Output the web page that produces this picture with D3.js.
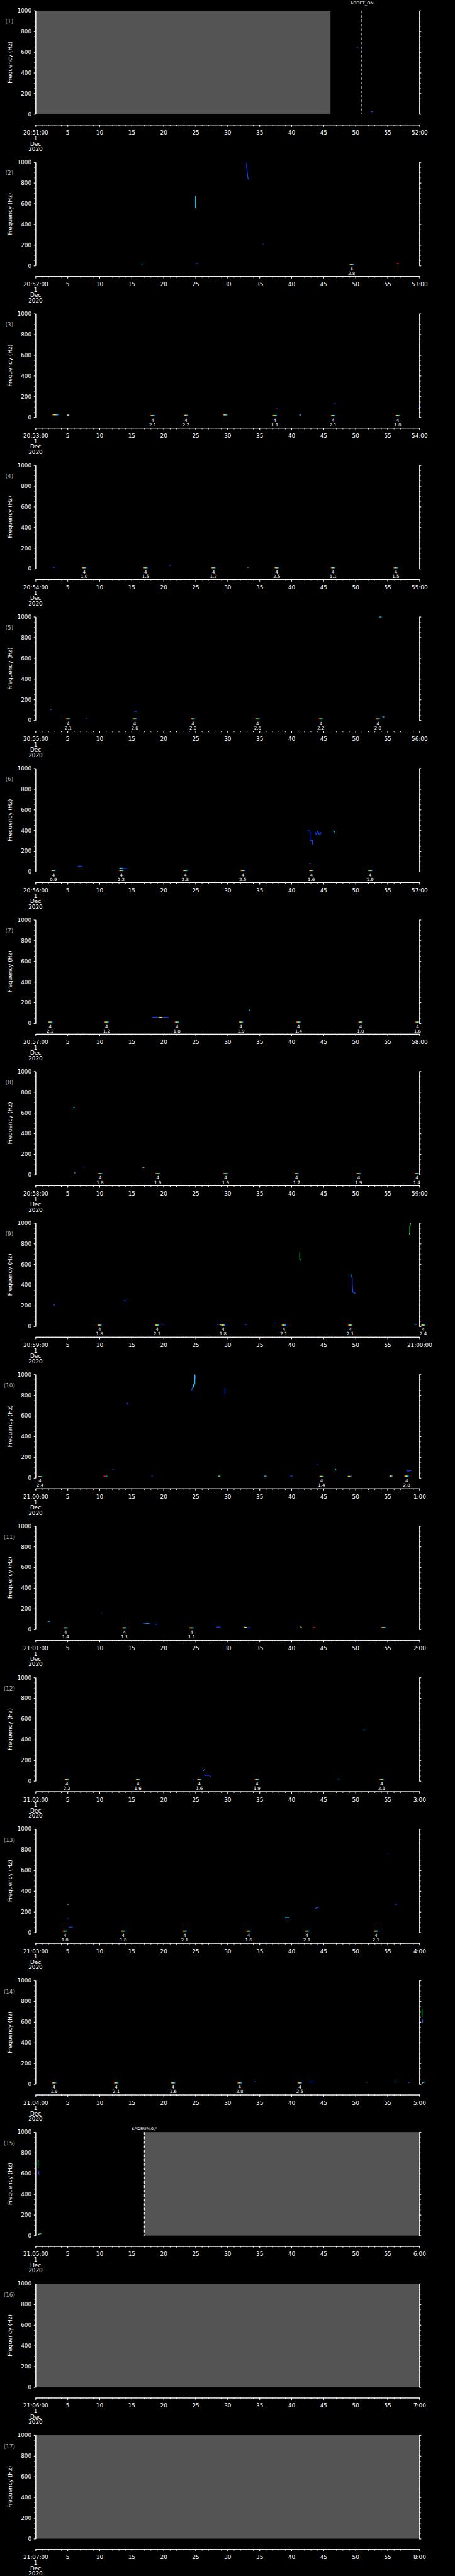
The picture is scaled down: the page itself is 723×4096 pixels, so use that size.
<!DOCTYPE html>
<html lang="en">
<head>
<meta charset="utf-8">
<title>Spectrogram pages</title>
<script src="https://d3js.org/d3.v7.min.js"></script>
<style>
  body { margin: 0; background: #000; }
  svg { display: block; }
  text { font-family: "DejaVu Sans", sans-serif; fill: #fff; }
</style>
</head>
<body>
<script>
"use strict";

// one panel per minute
const startLabels = ["20:51:00","20:52:00","20:53:00","20:54:00","20:55:00","20:56:00","20:57:00","20:58:00",
                     "20:59:00","21:00:00","21:01:00","21:02:00","21:03:00","21:04:00","21:05:00","21:06:00","21:07:00"];
const endLabels = ["52:00","53:00","54:00","55:00","56:00","57:00","58:00","59:00",
                   "21:00:00","1:00","2:00","3:00","4:00","5:00","6:00","7:00","8:00"];
const dateLines = ["1", "Dec", "2020"];
const majorSec = d3.range(0, 61, 5);
const minorSec = d3.range(0, 61, 1);
const freqMajor = d3.range(0, 1001, 200);
const freqMinor = d3.range(0, 1001, 50);

// no-data (gray) spans: panel, start s, end s
const grayRows = [[1, 0, 46.1], [15, 17.0, 60], [16, 0, 60], [17, 0, 60]];

// flag lines: panel, s, label
const flagRows = [[1, 51.0, "ADDET_ON"], [15, 17.0, "$ADRUN,0,*"]];

// detections: panel, s, Hz, code, value
const eventRows = [
  [2,49.4,12,"4","2.8"],
  [3,18.3,15,"4","2.1"],[3,23.5,17,"4","2.2"],[3,37.4,15,"4","1.1"],[3,46.5,15,"4","2.1"],[3,56.6,15,"4","1.8"],
  [4,7.6,10,"4","1.0"],[4,17.2,10,"4","1.5"],[4,27.8,10,"4","1.2"],[4,37.7,10,"4","2.5"],[4,46.5,10,"4","1.1"],[4,56.3,10,"4","1.5"],
  [5,5.1,12,"4","2.1"],[5,15.5,12,"4","2.6"],[5,24.6,12,"4","2.0"],[5,34.7,12,"4","2.6"],[5,44.6,12,"4","2.2"],[5,53.5,12,"4","2.0"],
  [6,2.8,12,"4","0.9"],[6,13.4,12,"4","2.2"],[6,23.4,12,"4","2.8"],[6,32.4,12,"4","2.5"],[6,43.1,12,"4","1.6"],[6,52.3,12,"4","1.9"],
  [7,2.3,12,"4","2.2"],[7,11.1,12,"4","1.2"],[7,22.1,12,"4","1.8"],[7,32.1,12,"4","1.9"],[7,41.1,12,"4","1.4"],[7,50.8,12,"4","1.0"],[7,59.7,12,"4","1.6"],
  [8,10.1,12,"4","1.8"],[8,19.1,12,"4","1.9"],[8,29.7,12,"4","1.9"],[8,40.8,12,"4","1.7"],[8,50.5,12,"4","1.9"],[8,59.6,12,"4","1.4"],
  [9,10.0,12,"4","1.8"],[9,19.0,12,"4","2.1"],[9,29.3,12,"4","1.8"],[9,38.8,12,"4","2.1"],[9,49.2,12,"4","2.1"],[9,60.6,12,"4","2.4"],
  [10,0.7,12,"4","2.4"],[10,44.7,14,"4","1.4"],[10,58.0,17,"4","2.8"],
  [11,4.7,15,"4","1.4"],[11,13.9,15,"4","1.1"],[11,24.4,15,"4","1.1"],
  [12,4.9,13,"4","2.2"],[12,16.0,13,"4","1.6"],[12,25.6,13,"4","1.6"],[12,34.6,13,"4","1.9"],[12,54.1,13,"4","2.1"],
  [13,4.6,13,"4","1.8"],[13,13.7,13,"4","1.8"],[13,23.3,13,"4","2.1"],[13,33.3,13,"4","1.6"],[13,42.4,13,"4","2.1"],[13,53.2,13,"4","2.1"],
  [14,2.9,12,"4","1.9"],[14,12.6,12,"4","2.1"],[14,21.5,12,"4","1.6"],[14,31.9,12,"4","2.8"],[14,41.3,12,"4","2.5"]
];

// spectral traces: panel, colour key, then s,Hz pairs
const traceRows = [
  [1,"b",50.2,636,50.4,646],[1,"b",52.4,24,52.7,24],
  [2,"b",33.0,995,33.0,960,33.1,890,33.2,845,33.4,830],[2,"c",25.0,672,25.0,554],[2,"b",35.4,203,35.6,209],
  [2,"c",16.5,17,16.8,17],[2,"b",25.1,20,25.4,20],[2,"b",49.3,12,49.6,12],[2,"r",56.4,20,56.8,20],
  [3,"rb",2.6,23,3.6,23],[3,"rb",4.9,19,5.3,19],[3,"rb",29.3,22,30.0,22],[3,"b",37.6,80,37.8,82],
  [3,"c",41.2,20,41.5,20],[3,"b",46.6,130,46.9,130],[3,"b",59.8,85,60.1,85],
  [4,"b",2.7,13,3.0,13],[4,"b",20.9,32,21.2,32],[4,"g",33.1,15,33.4,15],[4,"g",37.3,13,37.6,13],
  [5,"b",2.3,103,2.5,103],[5,"b",7.8,17,8.0,17],[5,"b",15.4,86,15.8,86],[5,"c",53.7,998,54.1,998],[5,"c",54.2,34,54.5,30],
  [6,"b",6.6,54,7.3,54],[6,"c",13.1,35,13.6,35],[6,"b",13.6,32,14.3,30],
  [6,"b",42.5,397,42.8,394,42.9,394,42.9,296,43.1,303,43.3,302,43.3,263],
  [6,"b",43.7,380,43.9,360,44.0,390,44.2,380,44.3,365,44.5,362,44.5,378,44.7,376],
  [6,"c",46.5,397,46.6,390,46.8,382],[6,"b",42.8,78,43.0,78],
  [7,"b",18.2,58,19.3,58],[7,"y",19.3,58,19.8,58],[7,"b",19.8,58,20.8,56],[7,"c",33.3,127,33.5,127,33.5,120],
  [8,"c",5.9,647,6.0,654,6.1,656],[8,"c",6.0,19,6.2,19],[8,"b",7.4,75,7.6,75],[8,"c",16.7,71,17.0,71],
  [9,"b",2.8,207,3.1,207],[9,"b",13.8,250,14.0,248,14.3,246],[9,"g",41.3,713,41.3,650,41.4,638],
  [9,"c",49.3,504,49.3,485],[9,"b",49.3,485,49.5,470,49.5,400,49.6,330,49.8,326,50.0,317],
  [9,"g",58.4,892,58.5,900,58.5,960,58.6,998],
  [9,"b",19.7,20,20.0,20],[9,"b",28.4,18,28.8,18],[9,"y",28.8,15,29.3,15],[9,"b",32.7,18,33.0,18],
  [9,"b",37.3,22,37.6,22],[9,"c",59.2,20,59.6,20],
  [10,"b",24.4,845,24.5,870],[10,"c",24.5,870,24.7,880,24.7,907,24.9,907,24.9,1000],[10,"b",25.0,990,25.0,960],
  [10,"b",29.6,804,29.6,873],[10,"b",14.3,723,14.5,708],[10,"b",12.0,80,12.2,80],[10,"b",43.9,127,44.1,125],
  [10,"c",46.8,88,46.9,80,47.0,73],[10,"b",58.0,70,58.3,65,58.5,72,58.7,70],
  [10,"r",10.6,17,11.0,17],[10,"c",11.0,17,11.2,17],[10,"b",18.1,17,18.3,17],[10,"g",28.5,17,28.9,17],
  [10,"c",35.7,17,36.1,17],[10,"b",39.8,17,40.2,17],[10,"y",48.8,15,49.2,15],[10,"b",49.2,17,49.5,17],
  [10,"rb",55.3,17,55.8,17],
  [11,"c",1.9,78,2.3,78],[11,"b",10.3,160,10.4,160],[11,"b",16.9,58,17.3,55],[11,"c",17.3,55,17.6,58],
  [11,"b",17.6,58,17.9,57],[11,"b",18.6,50,19.0,48],[11,"b",28.3,22,28.9,22],[11,"y",32.6,22,33.0,20],
  [11,"b",33.0,16,33.6,16],[11,"y",41.4,26,41.6,20],[11,"r",43.3,18,43.7,16],[11,"rb",54.0,17,54.8,17],
  [12,"c",51.3,495,51.4,488],[12,"c",26.2,100,26.4,108],[12,"b",26.4,52,26.8,56,27.1,52],
  [12,"b",27.2,47,27.5,45],[12,"b",24.6,17,24.8,17],[12,"c",47.2,20,47.5,20],
  [13,"g",4.9,273,5.2,273],[13,"b",5.0,131,5.2,131],[13,"b",5.2,52,5.8,52],[13,"c",39.0,144,39.7,144],
  [13,"b",43.7,230,43.9,238,44.2,239],[13,"b",55.0,763,55.1,763],[13,"b",56.1,273,56.5,271],
  [14,"b",34.2,22,34.4,22],[14,"b",42.8,20,43.4,20],[14,"b",51.7,13,51.8,13],[14,"c",56.1,20,56.4,20],
  [14,"b",58.3,13,58.5,13],[14,"g",60.4,727,60.4,652],[14,"b",60.45,652,60.5,652],[14,"b",60.5,624,60.5,589],
  [14,"g",60.4,8,60.6,18],[14,"c",60.6,18,60.9,18],
  [15,"g",0.4,729,0.4,658],[15,"b",0.45,658,0.5,658],[15,"b",0.5,622,0.55,589],[15,"y",0.4,8,0.6,18],[15,"c",0.6,18,0.9,18]
];

const colors = {b: "#0a46ff", c: "#00c8ff", g: "#50ff78", y: "#ffe000", r: "#ff2000"};

// layout, in the reference's 1024 x 5802 units
const W = 1024, H = 5802;
const pitch = 341.3, top0 = 24, plotH = 233, axisY = 257;
const fs = 12.6;

const svg = d3.select("body").append("svg")
    .attr("width", 723).attr("height", 4096)
    .attr("viewBox", `0 0 ${W} ${H}`)
    .attr("preserveAspectRatio", "none")
    .style("background", "#000");

let grad = svg.append("defs").append("linearGradient").attr("id", "rb");
[["0%","#ff2000"],["35%","#ffe000"],["55%","#50ff78"],["75%","#00c8ff"],["100%","#0a46ff"]]
    .forEach(s => grad.append("stop").attr("offset", s[0]).attr("stop-color", s[1]));

const x = d3.scaleLinear().domain([0, 60]).range([80, 944]);
const y = d3.scaleLinear().domain([0, 1000]).range([plotH, 0]);
const line = d3.line().x(d => x(d[0])).y(d => y(d[1]));

function whiten(sel) {
    sel.selectAll("path, line").attr("stroke", "#fff").attr("stroke-width", 1.3);
    sel.select(".domain").attr("stroke-width", 1.5);
}

startLabels.forEach(function(start, i) {
    let p = i + 1;
    let g = svg.append("g").attr("transform", `translate(0,${top0 + i * pitch})`);

    // gray no-data spans
    grayRows.filter(r => r[0] === p).forEach(function(r) {
        g.append("rect")
            .attr("x", x(r[1])).attr("width", x(r[2]) - x(r[1]))
            .attr("y", y(1000)).attr("height", y(0) - y(1000))
            .attr("fill", "#545454");
    });

    // flag lines
    flagRows.filter(r => r[0] === p).forEach(function(r) {
        g.append("line")
            .attr("x1", x(r[1])).attr("x2", x(r[1]))
            .attr("y1", y(1000)).attr("y2", y(0))
            .attr("stroke", "#fff").attr("stroke-width", 1.5)
            .attr("stroke-dasharray", "6,4");
        g.append("text")
            .attr("x", x(r[1])).attr("y", i === 0 ? -14 : -4)
            .attr("text-anchor", "middle")
            .style("font-size", "9.5px")
            .text(r[2]);
    });

    // traces
    traceRows.filter(r => r[0] === p).forEach(function(r) {
        let pts = [];
        for (let k = 2; k < r.length; k += 2) pts.push([r[k], r[k + 1]]);
        if (r[1] === "rb") {
            g.append("rect")
                .attr("x", x(pts[0][0])).attr("width", x(pts[1][0]) - x(pts[0][0]))
                .attr("y", y(pts[0][1]) - 1.3).attr("height", 2.6)
                .attr("fill", "url(#rb)");
        } else {
            g.append("path")
                .attr("d", line(pts))
                .attr("fill", "none")
                .attr("stroke", colors[r[1]])
                .attr("stroke-width", 1.8);
        }
    });

    // detections
    eventRows.filter(r => r[0] === p).forEach(function(r) {
        g.append("rect")
            .attr("x", x(r[1] - 0.35)).attr("width", x(r[1] + 0.35) - x(r[1] - 0.35))
            .attr("y", y(r[2]) - 1.3).attr("height", 2.6)
            .attr("fill", "url(#rb)");
        g.append("text").attr("x", x(r[1])).attr("y", 243.5)
            .attr("text-anchor", "middle").style("font-size", "10px").text(r[3]);
        g.append("text").attr("x", x(r[1])).attr("y", 253.5)
            .attr("text-anchor", "middle").style("font-size", "10px").text(r[4]);
    });

    // frequency axes
    let yl = g.append("g").attr("transform", "translate(80,0)");
    yl.append("g").call(d3.axisLeft(y).tickValues(freqMinor).tickSize(3).tickSizeOuter(0).tickFormat(""));
    yl.append("g").call(d3.axisLeft(y).tickValues(freqMajor).tickSize(4).tickSizeOuter(0).tickPadding(5)
        .tickFormat(d3.format("d")));
    yl.selectAll("text").style("font-size", fs + "px").attr("fill", "#fff");
    whiten(yl);

    let yr = g.append("g").attr("transform", "translate(944,0)");
    yr.append("g").call(d3.axisRight(y).tickValues(freqMinor).tickSize(3).tickSizeOuter(0).tickFormat(""));
    yr.append("g").call(d3.axisRight(y).tickValues(freqMajor).tickSize(4).tickSizeOuter(0).tickFormat(""));
    whiten(yr);

    // time axis
    let xa = g.append("g").attr("transform", `translate(0,${axisY})`);
    xa.append("g").call(d3.axisBottom(x).tickValues(minorSec).tickSize(3).tickSizeOuter(0).tickFormat(""));
    xa.append("g").call(d3.axisBottom(x).tickValues(majorSec).tickSize(5).tickSizeOuter(0)
        .tickFormat(d => d === 0 ? start : d === 60 ? endLabels[i] : d));
    xa.selectAll("text").style("font-size", fs + "px").attr("fill", "#fff")
        .attr("y", 22.5).attr("dy", 0);
    whiten(xa);

    dateLines.forEach(function(t, k) {
        g.append("text").attr("x", x(0)).attr("y", axisY + 35 + k * 12)
            .attr("text-anchor", "middle").style("font-size", fs + "px").text(t);
    });

    // axis title and panel number
    g.append("text")
        .attr("transform", `translate(27.5,${plotH / 2}) rotate(-90)`)
        .attr("text-anchor", "middle").style("font-size", fs + "px")
        .text("Frequency (Hz)");
    g.append("text").attr("x", 21).attr("y", 29)
        .attr("text-anchor", "middle").style("font-size", fs + "px")
        .style("fill", "#b4b4b4")
        .text("(" + p + ")");
});
</script>
</body>
</html>
